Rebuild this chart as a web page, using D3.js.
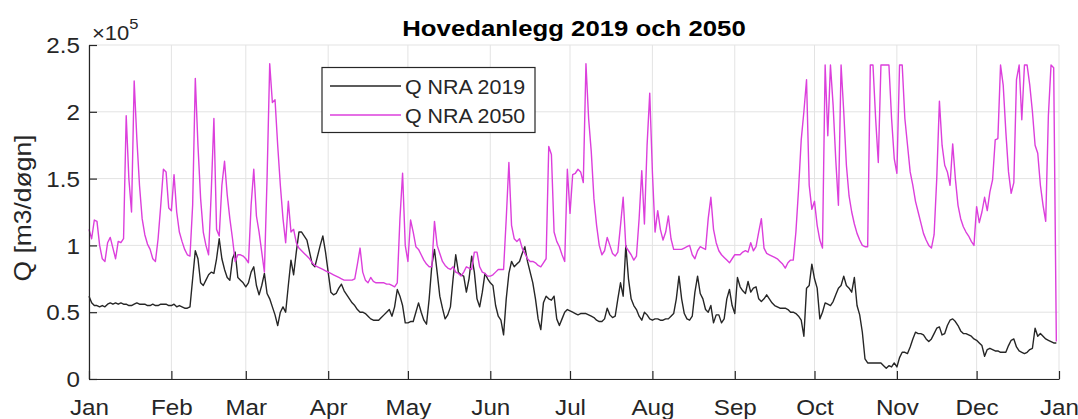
<!DOCTYPE html>
<html><head><meta charset="utf-8">
<script src="https://cdn.jsdelivr.net/npm/d3@7"></script>
<style>
html,body{margin:0;padding:0;background:#fff;}
svg{display:block;font-family:"Liberation Sans",Arial,Helvetica,sans-serif;}
</style></head><body>
<svg id="chart" width="1078" height="419"></svg>
<script>
// Daily series, values in units of 10^5 m3/døgn, starting 2019-01-01
const startDate = "2019-01-01";
const endDate = "2020-01-01";
const q2019 = [
0.62,0.57,0.55,0.55,0.54,0.55,0.54,0.56,0.57,0.56,0.57,0.56,0.57,0.56,0.56,0.55,0.55,0.56,0.57,0.56,
0.56,0.56,0.55,0.55,0.56,0.55,0.55,0.56,0.56,0.56,0.55,0.55,0.56,0.54,0.55,0.54,0.53,0.53,0.54,0.75,
0.96,0.9,0.72,0.7,0.74,0.78,
0.8,0.79,0.9,1.05,0.9,0.82,0.76,0.74,0.9,0.95,0.76,0.74,0.72,0.69,0.72,0.8,0.84,0.7,0.63,0.7,
0.79,0.64,0.6,0.54,0.48,0.4,0.5,0.54,0.5,0.7,0.89,0.78,0.95,1.1,1.1,1.07,1.04,0.95,0.86,0.84,
0.92,1.0,1.07,0.95,0.8,0.65,
0.63,0.64,0.68,0.71,0.66,0.63,0.6,0.57,0.55,0.52,0.5,0.5,0.49,0.47,0.45,0.44,0.44,0.44,0.46,0.48,
0.5,0.52,0.47,0.54,0.67,0.62,0.55,0.42,0.42,0.43,0.43,0.5,0.57,0.5,0.44,0.41,0.6,0.85,0.97,0.8,
0.62,0.53,0.45,0.48,0.54,0.75,0.93,
0.8,0.78,0.77,0.65,0.75,0.92,0.8,0.6,0.54,0.65,0.79,0.75,0.72,0.7,0.55,0.47,0.44,0.33,0.6,0.79,
0.88,0.84,0.86,0.88,0.94,0.99,0.88,0.8,0.72,0.6,0.45,0.37,0.57,0.62,0.6,0.59,0.62,0.45,0.4,0.45,
0.5,0.52,0.51,0.5,0.49,
0.48,0.49,0.49,0.49,0.48,0.47,0.46,0.44,0.43,0.43,0.45,0.53,0.48,0.46,0.47,0.6,0.72,0.62,1.0,0.75,
0.6,0.55,0.52,0.47,0.44,0.5,0.48,0.45,0.44,0.45,0.45,0.44,0.44,0.45,0.45,0.47,0.49,0.6,0.77,0.6,
0.49,0.45,0.44,0.47,0.65,0.77,
0.64,0.6,0.52,0.5,0.55,0.42,0.48,0.48,0.42,0.45,0.6,0.67,0.55,0.49,0.76,0.69,0.66,0.64,0.73,0.65,
0.68,0.69,0.6,0.58,0.6,0.63,0.6,0.57,0.55,0.54,0.53,0.53,0.53,0.52,0.5,0.5,0.49,0.47,0.44,0.32,
0.68,0.7,0.86,0.75,0.68,0.45,
0.5,0.57,0.56,0.55,0.58,0.63,0.68,0.7,0.77,0.7,0.68,0.65,0.76,0.55,0.48,0.35,0.15,0.12,0.12,0.12,
0.12,0.12,0.12,0.1,0.08,0.1,0.09,0.12,0.09,0.16,0.2,0.2,0.19,0.24,0.3,0.35,0.34,0.34,0.33,0.3,
0.28,0.3,0.34,0.38,0.39,0.33,
0.34,0.4,0.44,0.45,0.43,0.4,0.36,0.34,0.34,0.33,0.32,0.3,0.29,0.27,0.25,0.17,0.22,0.23,0.22,0.21,
0.21,0.2,0.2,0.2,0.25,0.29,0.3,0.24,0.21,0.2,0.19,0.2,0.22,0.23,0.38,0.32,0.34,0.32,0.3,0.29,
0.28,0.27,0.27
];
const q2050 = [
1.12,1.05,1.19,1.18,1.0,0.9,0.88,1.02,1.06,0.98,0.9,1.03,1.02,1.05,1.97,1.5,1.25,2.23,1.8,1.45,
1.2,1.08,1.01,0.97,0.9,0.88,1.05,1.3,1.57,1.55,1.28,1.26,1.53,1.25,1.1,1.03,0.97,0.93,0.92,1.3,
2.25,1.75,1.35,1.1,1.0,0.93,
1.4,1.95,1.12,1.07,1.45,1.63,1.38,1.2,1.05,0.88,0.93,0.93,0.92,0.9,0.87,1.3,1.57,1.22,1.1,0.95,
0.8,1.5,2.36,2.07,2.09,1.75,1.45,1.2,1.02,1.33,1.1,1.12,1.02,0.98,0.96,0.94,0.92,0.9,0.87,0.85,
0.84,0.83,0.82,0.81,0.8,
0.79,0.78,0.77,0.76,0.75,0.74,0.74,0.74,0.74,0.75,0.86,0.98,0.8,0.74,0.72,0.76,0.73,0.72,0.72,0.72,
0.72,0.71,0.71,0.7,0.69,0.72,1.2,1.54,1.0,0.88,1.19,1.1,0.99,0.97,0.93,0.89,0.86,0.84,0.84,1.18,
1.0,0.94,0.88,0.85,0.83,0.82,0.84,
0.8,0.79,0.77,0.8,0.84,0.83,0.82,0.95,0.95,0.84,0.8,0.79,0.77,0.77,0.78,0.8,0.82,0.82,0.82,1.2,
1.62,1.15,1.05,1.03,1.05,0.98,0.94,0.9,0.88,0.88,0.87,0.85,0.84,0.87,0.9,1.74,1.68,1.1,1.03,0.99,
0.93,0.88,1.57,1.24,1.53,1.54,
1.57,1.55,1.47,2.36,1.95,1.7,1.35,1.15,1.0,0.93,0.96,1.06,1.0,0.94,0.92,0.95,1.15,1.36,0.99,0.96,
0.93,0.89,0.92,1.2,1.56,1.16,1.75,2.14,1.55,1.1,1.26,1.12,1.04,1.1,1.22,1.05,0.97,0.97,0.97,0.97,
0.98,0.99,1.0,0.93,0.9,0.96,
0.99,0.98,0.97,1.2,1.36,1.12,1.02,0.96,0.93,0.91,0.89,0.87,0.9,0.93,0.93,0.93,0.95,0.96,0.95,1.02,
0.96,0.99,1.1,1.2,0.98,0.94,0.93,0.92,0.91,0.9,0.88,0.86,0.83,0.87,0.89,0.89,1.1,1.42,1.79,2.0,
2.24,1.45,1.27,1.33,1.15,1.04,
0.98,2.35,1.82,2.35,2.05,1.64,1.3,2.35,2.0,1.6,1.37,1.25,1.16,1.09,1.04,1.0,0.99,0.99,2.35,2.35,
1.95,1.62,2.35,2.35,2.35,2.35,1.95,1.65,1.54,2.35,2.35,1.95,1.75,1.55,1.45,1.33,1.25,1.17,1.09,1.04,
1.0,0.98,1.08,1.5,2.08,
1.75,1.6,1.55,1.45,1.76,1.5,1.3,1.2,1.14,1.1,1.07,1.03,1.0,1.29,1.17,1.25,1.36,1.26,1.4,1.49,
1.79,1.8,2.35,2.2,1.85,1.55,1.39,1.47,2.24,2.35,1.94,2.35,2.35,2.2,2.0,1.75,1.69,1.45,1.3,1.18,
1.97,2.35,2.33,0.28
];
const seriesNames = ["Q NRA 2019", "Q NRA 2050"];
const seriesColors = ["#262626", "#dc3fdc"];
const yTicks = [0, 0.5, 1, 1.5, 2, 2.5];
const yTickLabels = ["0", "0.5", "1", "1.5", "2", "2.5"];
const monthLabels = ["Jan","Feb","Mar","Apr","May","Jun","Jul","Aug","Sep","Oct","Nov","Dec","Jan"];
const titleText = "Hovedanlegg 2019 och 2050";
const yLabelText = "Q [m3/døgn]";
const yExponent = "5";

(function () {
const svg = d3.select("#chart");
const pL = 89, pR = 1059, pT = 45, pB = 379;
const axisColor = "#262626", gridColor = "#e3e3e3";
const sx = 1.1; // horizontal text widening seen in the reference

const t0 = new Date(startDate), t1 = new Date(endDate);
const x = d3.scaleUtc().domain([t0, t1]).range([pL, pR]);
const y = d3.scaleLinear().domain([0, 2.5]).range([pB, pT]);
const monthTicks = d3.utcMonth.range(t0, d3.utcDay.offset(t1, 1));

svg.append("rect").attr("width", 1078).attr("height", 419).attr("fill", "#fff");

// grid
const grid = svg.append("g");
grid.selectAll("line.vg").data(monthTicks).join("line").attr("class", "vg")
  .attr("x1", d => x(d)).attr("x2", d => x(d)).attr("y1", pT).attr("y2", pB)
  .attr("stroke", gridColor).attr("stroke-width", 1);
grid.selectAll("line.hg").data(yTicks).join("line").attr("class", "hg")
  .attr("x1", pL).attr("x2", pR).attr("y1", d => y(d)).attr("y2", d => y(d))
  .attr("stroke", gridColor).attr("stroke-width", 1);

// lines
const series = [q2019, q2050];
const line = d3.line()
  .x((d, i) => x(d3.utcDay.offset(t0, i)))
  .y(d => y(d));
series.forEach((s, k) => {
  svg.append("path").datum(s)
    .attr("d", line)
    .attr("fill", "none")
    .attr("stroke", seriesColors[k])
    .attr("stroke-width", 1.4)
    .attr("stroke-linejoin", "round");
});

// axes
const xAxis = d3.axisBottom(x).tickValues(monthTicks)
  .tickFormat((d, i) => monthLabels[i])
  .tickSizeInner(-8).tickSizeOuter(0).tickPadding(20);
const gx = svg.append("g").attr("transform", `translate(0,${pB})`).call(xAxis);
const yAxis = d3.axisLeft(y).tickValues(yTicks)
  .tickFormat((d, i) => yTickLabels[i])
  .tickSizeInner(-8).tickSizeOuter(0).tickPadding(9);
const gy = svg.append("g").attr("transform", `translate(${pL},0)`).call(yAxis);
[gx, gy].forEach(g => {
  g.select(".domain").attr("stroke", axisColor).attr("stroke-width", 1.2);
  g.selectAll(".tick line").attr("stroke", axisColor).attr("stroke-width", 1.2);
  g.selectAll(".tick text").attr("fill", axisColor)
    .style("font-family", '"Liberation Sans",Arial,sans-serif').style("font-size", "22px")
    .attr("transform", `scale(${sx},1)`);
});
gy.selectAll(".tick text").attr("dy", "0.35em").attr("x", -9 / sx);

// exponent
const ex = svg.append("text").attr("transform", `translate(92,40) scale(${sx},1)`).attr("fill", axisColor)
  .style("font-size", "20px");
ex.append("tspan").text("×10");
ex.append("tspan").attr("dy", -11).style("font-size", "15px").text(yExponent);

// y label
svg.append("text")
  .attr("transform", "translate(31,208) rotate(-90) scale(1.15,1)")
  .attr("text-anchor", "middle").attr("fill", axisColor)
  .style("font-size", "23px").text(yLabelText);

// title
svg.append("text").attr("transform", `translate(${(pL + pR) / 2},36) scale(1.12,1)`)
  .attr("text-anchor", "middle").attr("fill", "#000")
  .style("font-size", "23px").style("font-weight", "bold").text(titleText);

// legend
const lg = svg.append("g");
lg.append("rect").attr("x", 322).attr("y", 67.5).attr("width", 213).attr("height", 65)
  .attr("fill", "#fff").attr("stroke", axisColor).attr("stroke-width", 1.2);
seriesNames.forEach((n, k) => {
  const yy = 86 + k * 29;
  lg.append("line").attr("x1", 330).attr("x2", 401).attr("y1", yy).attr("y2", yy)
    .attr("stroke", seriesColors[k]).attr("stroke-width", 1.4);
  lg.append("text").attr("transform", `translate(405,${yy + 7.5}) scale(1.02,1)`).attr("fill", axisColor)
    .style("font-size", "21px").text(n);
});
})();
</script>
</body></html>
